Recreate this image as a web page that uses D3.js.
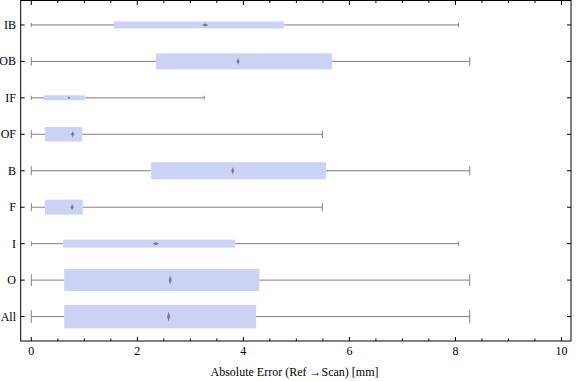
<!DOCTYPE html>
<html>
<head>
<meta charset="utf-8">
<script src="https://cdn.jsdelivr.net/npm/d3@7"></script>
<style>
  html, body { margin: 0; padding: 0; background: #fff; }
  svg { display: block; }
  text { font-family: "Liberation Serif", "Times New Roman", serif; fill: #000; }
</style>
</head>
<body>
<svg id="chart" width="576" height="381"></svg>
<script>
// ---- data ----
const categories = ["IB", "OB", "IF", "OF", "B", "F", "I", "O", "All"];
const minValues    = [0, 0, 0, 0, 0, 0, 0, 0, 0];
const q1Values     = [1.56, 2.35, 0.24, 0.26, 2.26, 0.26, 0.60, 0.62, 0.62];
const medianValues = [3.28, 3.90, 0.71, 0.78, 3.80, 0.77, 2.35, 2.62, 2.59];
const q3Values     = [4.76, 5.67, 1.01, 0.96, 5.56, 0.97, 3.84, 4.30, 4.24];
const maxValues    = [8.06, 8.27, 3.26, 5.49, 8.27, 5.49, 8.06, 8.27, 8.27];
// relative box weights (sample size) -> box thickness
const boxWeights   = [7, 16, 5, 14.5, 17, 15, 8, 22, 23.5];
const xTickValues  = [0, 2, 4, 6, 8, 10];
const axisTitle = "Absolute Error (Ref \u2192Scan) [mm]";

// ---- layout ----
const svg = d3.select("#chart");
const L = 20.7, R = 571, T = 0.5, B = 341;
const x = d3.scaleLinear().domain([-0.2, 10.18]).range([L, R]);
const y = d3.scalePoint().domain(categories).range([T, B]).padding(0.67);
const thick = d3.scaleLinear().domain([0, 1]).range([0, 1]);

const boxColor = "#cbd2f4";
const whiskColor = "#808080";

const rows = categories.map((c, i) => ({
  cat: c, min: minValues[i], q1: q1Values[i], med: medianValues[i],
  q3: q3Values[i], max: maxValues[i], h: thick(boxWeights[i])
}));

const g = svg.append("g");

// whisker lines
g.selectAll("line.wl").data(rows).enter().append("line")
  .attr("x1", d => x(d.min)).attr("x2", d => x(d.q1))
  .attr("y1", d => y(d.cat)).attr("y2", d => y(d.cat))
  .attr("stroke", whiskColor).attr("stroke-width", 1);
g.selectAll("line.wr").data(rows).enter().append("line")
  .attr("x1", d => x(d.q3)).attr("x2", d => x(d.max))
  .attr("y1", d => y(d.cat)).attr("y2", d => y(d.cat))
  .attr("stroke", whiskColor).attr("stroke-width", 1);
// caps
g.selectAll("line.cl").data(rows).enter().append("line")
  .attr("x1", d => x(d.min)).attr("x2", d => x(d.min))
  .attr("y1", d => y(d.cat) - Math.max(2, d.h * 0.27)).attr("y2", d => y(d.cat) + Math.max(2, d.h * 0.27))
  .attr("stroke", whiskColor).attr("stroke-width", 1);
g.selectAll("line.cr").data(rows).enter().append("line")
  .attr("x1", d => x(d.max)).attr("x2", d => x(d.max))
  .attr("y1", d => y(d.cat) - Math.max(2, d.h * 0.27)).attr("y2", d => y(d.cat) + Math.max(2, d.h * 0.27))
  .attr("stroke", whiskColor).attr("stroke-width", 1);

// boxes
g.selectAll("rect.box").data(rows).enter().append("rect")
  .attr("x", d => x(d.q1)).attr("width", d => x(d.q3) - x(d.q1))
  .attr("y", d => y(d.cat) - d.h / 2).attr("height", d => d.h)
  .attr("fill", boxColor);

// median diamonds
g.selectAll("path.med").data(rows).enter().append("path")
  .attr("d", d => {
    let w, hh;
    if (d.h < 6) { w = 2.5; hh = 2.5; }
    else if (d.h < 10) { w = 6.5; hh = 3; }
    else { w = 3; hh = d.h * 0.42; }
    const cx = x(d.med), cy = y(d.cat);
    return `M${cx - w/2},${cy}L${cx},${cy - hh/2}L${cx + w/2},${cy}L${cx},${cy + hh/2}Z`;
  })
  .attr("fill", "#7a7a7a");

// frame
svg.append("rect").attr("x", L).attr("y", T).attr("width", R - L).attr("height", B - T)
  .attr("fill", "none").attr("stroke", "#000").attr("stroke-width", 1);

// x ticks (major every 2, minor every 0.5) bottom and top
const minorTicks = d3.range(0, 10.01, 0.5).filter(v => !xTickValues.includes(v));
const tg = svg.append("g").attr("stroke", "#000").attr("stroke-width", 1);
xTickValues.forEach(v => {
  tg.append("line").attr("x1", x(v)).attr("x2", x(v)).attr("y1", B).attr("y2", B - 4);
  tg.append("line").attr("x1", x(v)).attr("x2", x(v)).attr("y1", T).attr("y2", T + 4.5);
});
minorTicks.forEach(v => {
  tg.append("line").attr("x1", x(v)).attr("x2", x(v)).attr("y1", B).attr("y2", B - 2.5);
  tg.append("line").attr("x1", x(v)).attr("x2", x(v)).attr("y1", T).attr("y2", T + 2.5);
});
// y ticks left and right
categories.forEach(c => {
  tg.append("line").attr("x1", L).attr("x2", L + 4).attr("y1", y(c)).attr("y2", y(c));
  tg.append("line").attr("x1", R).attr("x2", R - 4).attr("y1", y(c)).attr("y2", y(c));
});

// tick labels
svg.selectAll("text.xt").data(xTickValues).enter().append("text")
  .attr("x", d => x(d)).attr("y", B + 14)
  .attr("text-anchor", "middle").attr("font-size", 12)
  .text(d => d);
svg.selectAll("text.yt").data(categories).enter().append("text")
  .attr("x", 16).attr("y", d => y(d) + 4)
  .attr("text-anchor", "end").attr("font-size", 12)
  .text(d => d);

// axis title
svg.append("text").attr("x", (213 + 376) / 2).attr("y", 376)
  .attr("text-anchor", "middle").attr("font-size", 12)
  .text(axisTitle);
</script>
</body>
</html>
